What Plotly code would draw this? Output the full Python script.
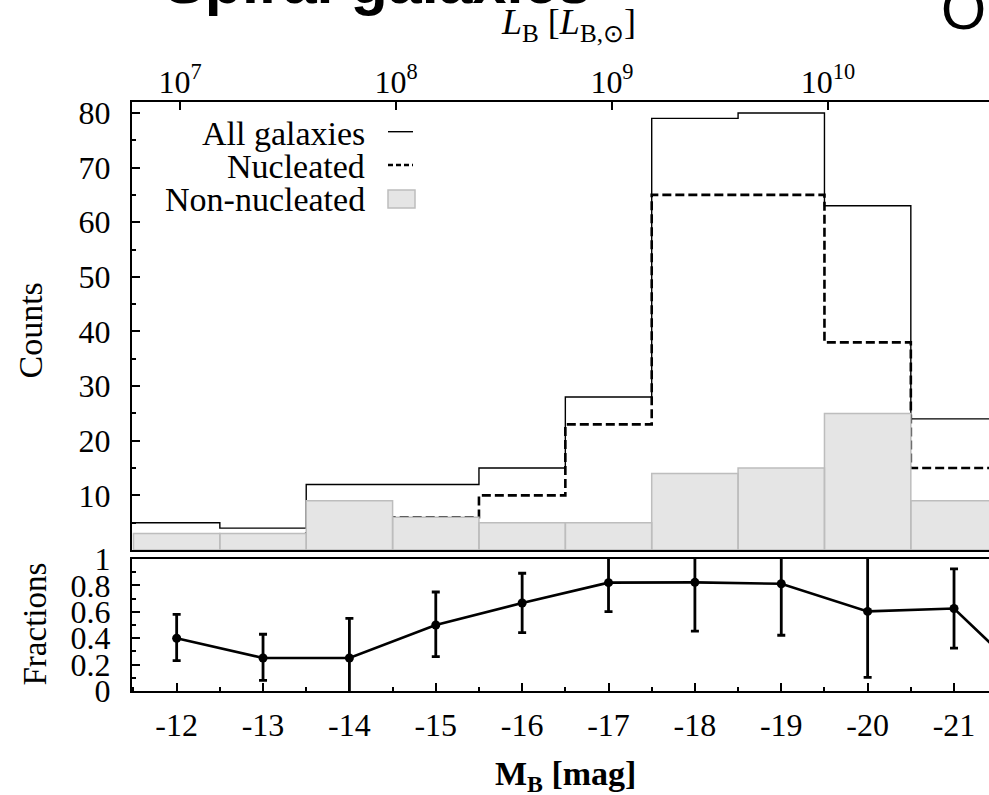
import plotly.graph_objects as go

# ---------------- data ----------------
mag_centers = [-12, -13, -14, -15, -16, -17, -18, -19, -20, -21]
all_counts = [5, 4, 12, 12, 15, 28, 79, 80, 63, 24]
nucleated_counts = [2, 1, 3, 6, 10, 23, 65, 65, 38, 15]
non_nucleated_counts = [3, 3, 9, 6, 5, 5, 14, 15, 25, 9]

frac_mag = [-12, -13, -14, -15, -16, -17, -18, -19, -20, -21, -22]
frac_vals = [0.40, 0.25, 0.25, 0.50, 0.667, 0.821, 0.823, 0.8125, 0.603, 0.625, 0.0]
frac_err_up = [0.18, 0.18, 0.30, 0.25, 0.225, 0.22, 0.37, 0.39, 0.50, 0.30, 0.0]
frac_err_lo = [0.17, 0.17, 0.30, 0.24, 0.225, 0.22, 0.37, 0.39, 0.50, 0.30, 0.0]

mag_tick_vals = [-12, -13, -14, -15, -16, -17, -18, -19, -20, -21]
mag_tick_text = ["-12", "-13", "-14", "-15", "-16", "-17", "-18", "-19", "-20", "-21"]
lum_tick_vals = [1e7, 1e8, 1e9, 1e10]
lum_tick_text = ["10<sup>7</sup>", "10<sup>8</sup>", "10<sup>9</sup>", "10<sup>10</sup>"]
count_tick_vals = [10, 20, 30, 40, 50, 60, 70, 80]
frac_tick_vals = [0, 0.2, 0.4, 0.6, 0.8, 1.0]
frac_tick_text = ["0", "0.2", "0.4", "0.6", "0.8", "1"]

M_SUN_B = 5.46

# ---------------- layout geometry ----------------
W, H = 989, 795
ML, MR, MT, MB = 132, 0, 102, 104
PW = W - ML - MR
PH = H - MT - MB


def pxx(xp):
    return (xp - ML) / PW


def pxy(yp):
    return (MT + PH - yp) / PH


x_range = [-11.483, -21.405]
lum_range = [(M_SUN_B - x_range[0]) / 2.5, (M_SUN_B - x_range[1]) / 2.5]

SERIF = "Liberation Serif, Times New Roman, serif"
SANS = "Liberation Sans, Arial, sans-serif"

# step-line coordinates from the bin centres
edges = [c + 0.5 for c in mag_centers] + [mag_centers[-1] - 0.5]
all_y = all_counts + [all_counts[-1]]
nuc_y = nucleated_counts + [nucleated_counts[-1]]

bar_x, bar_y = [], []
for c, h in zip(mag_centers, non_nucleated_counts):
    bar_x += [c + 0.5, c + 0.5, c - 0.5, c - 0.5, c + 0.5, None]
    bar_y += [0, h, h, 0, 0, None]

fig = go.Figure()

fig.add_trace(go.Scatter(
    x=edges, y=nuc_y, mode="lines", line_shape="hv",
    line=dict(color="black", width=2.6, dash="9px,4px"),
    xaxis="x", yaxis="y", showlegend=False, hoverinfo="skip"))

fig.add_trace(go.Scatter(
    x=edges, y=all_y, mode="lines", line_shape="hv",
    line=dict(color="black", width=1.4),
    xaxis="x", yaxis="y", showlegend=False, hoverinfo="skip"))

fig.add_trace(go.Scatter(
    x=bar_x, y=bar_y, mode="lines", fill="toself",
    fillcolor="#e5e5e5", line=dict(color="#bdbdbd", width=1.5),
    xaxis="x", yaxis="y", showlegend=False, hoverinfo="skip"))

# empty trace so that the luminosity axis on top is drawn
fig.add_trace(go.Scatter(
    x=[10 ** lum_range[0], 10 ** lum_range[1]], y=[None, None], mode="lines",
    xaxis="x3", yaxis="y", showlegend=False, hoverinfo="skip"))

fig.add_trace(go.Scatter(
    x=frac_mag, y=frac_vals, mode="lines+markers",
    line=dict(color="black", width=2.6),
    marker=dict(color="black", size=9),
    error_y=dict(type="data", symmetric=False, array=frac_err_up,
                 arrayminus=frac_err_lo, color="black", thickness=2.8, width=4),
    xaxis="x2", yaxis="y2", showlegend=False, cliponaxis=True))

top_dom = [pxy(550), 1]
bot_dom = [0, pxy(559)]

axis_common = dict(showgrid=False, zeroline=False, linecolor="black", linewidth=2,
                   tickcolor="black", tickwidth=1.5, automargin=False,
                   tickfont=dict(family=SERIF, size=32, color="black"))

fig.update_layout(
    width=W, height=H,
    margin=dict(l=ML, r=MR, t=MT, b=MB, pad=0),
    paper_bgcolor="white", plot_bgcolor="white",
    showlegend=False,
    xaxis=dict(domain=[0, 1], anchor="y", range=x_range, showline=True, mirror=True,
               ticks="", showticklabels=False, **axis_common),
    xaxis3=dict(overlaying="x", anchor="y", side="top", type="log", range=lum_range,
                tickmode="array", tickvals=lum_tick_vals, ticktext=lum_tick_text,
                ticks="inside", ticklen=8, showline=False, ticklabelstandoff=2,
                **axis_common),
    yaxis=dict(domain=top_dom, anchor="x", range=[0, 82], showline=True, mirror=False,
               tickmode="array", tickvals=count_tick_vals, ticks="inside", ticklen=8,
               minor=dict(tickmode="linear", tick0=0, dtick=5, ticks="inside",
                          ticklen=4, tickwidth=1.5, tickcolor="black"),
               ticklabelstandoff=13, **axis_common),
    xaxis2=dict(domain=[0, 1], anchor="y2", range=x_range, showline=True, mirror=True,
                tickmode="array", tickvals=mag_tick_vals, ticktext=mag_tick_text,
                ticks="inside", ticklen=8,
                minor=dict(tickmode="linear", tick0=-11.5, dtick=1, ticks="inside",
                           ticklen=4, tickwidth=1.5, tickcolor="black"),
                ticklabelstandoff=5, **axis_common),
    yaxis2=dict(domain=bot_dom, anchor="x2", range=[0, 1], showline=True, mirror=False,
                tickmode="array", tickvals=frac_tick_vals, ticktext=frac_tick_text,
                ticks="inside", ticklen=8,
                minor=dict(tickmode="linear", tick0=0, dtick=0.1, ticks="inside",
                           ticklen=4, tickwidth=1.5, tickcolor="black"),
                ticklabelstandoff=13, **axis_common),
)

ann = []
# cropped panel title and neighbouring title
ann.append(dict(text="<b>Spiral galaxies</b>", x=pxx(377.5), y=pxy(-18), xref="paper", yref="paper",
                xanchor="center", yanchor="middle", showarrow=False,
                font=dict(family=SANS, size=61, color="black")))
ann.append(dict(text="O", x=pxx(963.5), y=pxy(8), xref="paper", yref="paper",
                xanchor="center", yanchor="middle", showarrow=False,
                font=dict(family=SANS, size=58, color="black")))
# axis titles
ann.append(dict(text="<i>L</i><sub>B</sub> [<i>L</i><sub>B,⊙</sub>]", x=pxx(568), y=pxy(25),
                xref="paper", yref="paper", xanchor="center", yanchor="middle", showarrow=False,
                font=dict(family=SERIF, size=36, color="black")))
ann.append(dict(text="Counts", x=pxx(29.5), y=pxy(331), xref="paper", yref="paper",
                xanchor="center", yanchor="middle", textangle=-90, showarrow=False,
                font=dict(family=SERIF, size=34, color="black")))
ann.append(dict(text="Fractions", x=pxx(34), y=pxy(624.5), xref="paper", yref="paper",
                xanchor="center", yanchor="middle", textangle=-90, showarrow=False,
                font=dict(family=SERIF, size=33, color="black")))
ann.append(dict(text="<b>M<sub>B</sub> [mag]</b>", x=pxx(565), y=pxy(776), xref="paper", yref="paper",
                xanchor="center", yanchor="middle", showarrow=False,
                font=dict(family=SERIF, size=34, color="black")))
# legend
legend_items = [("All galaxies", 134), ("Nucleated", 166), ("Non-nucleated", 199)]
for txt, yc in legend_items:
    ann.append(dict(text=txt, x=pxx(367), y=pxy(yc), xref="paper", yref="paper",
                    xanchor="right", yanchor="middle", showarrow=False,
                    font=dict(family=SERIF, size=34, color="black")))
fig.update_layout(annotations=ann)

shapes = [
    dict(type="line", xref="paper", yref="paper", x0=pxx(388), x1=pxx(413),
         y0=pxy(131.7), y1=pxy(131.7), line=dict(color="black", width=1.4)),
    dict(type="line", xref="paper", yref="paper", x0=pxx(388), x1=pxx(413),
         y0=pxy(165), y1=pxy(165), line=dict(color="black", width=2.4, dash="5px,3px")),
    dict(type="rect", xref="paper", yref="paper", x0=pxx(388), x1=pxx(415),
         y0=pxy(208), y1=pxy(190), fillcolor="#e5e5e5", line=dict(color="#bdbdbd", width=1.5)),
]
fig.update_layout(shapes=shapes)

fig.write_html("out.html", config={"displayModeBar": False},
               post_script="document.body.style.margin='0';document.body.style.overflow='hidden';")
